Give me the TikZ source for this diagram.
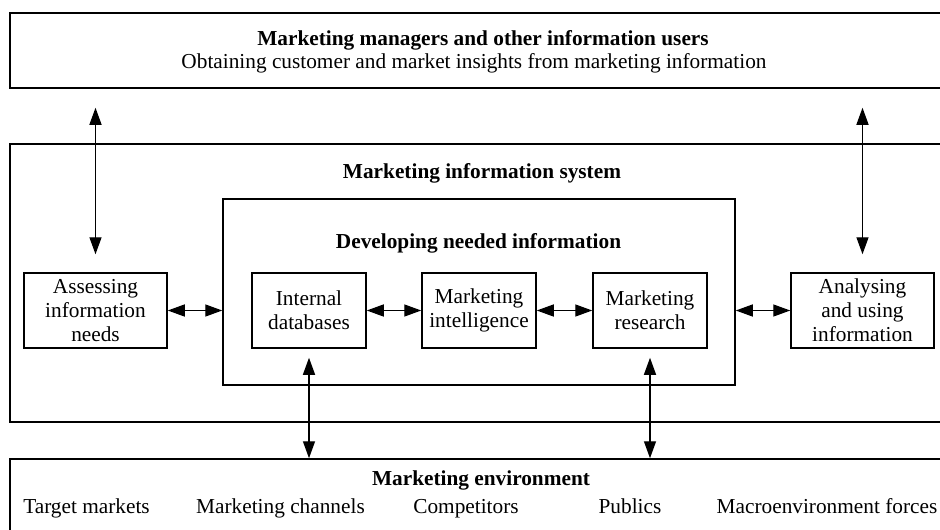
\documentclass[tikz,border=0pt]{standalone}
\usepackage{fontspec}
\setmainfont{Liberation Serif}
\usetikzlibrary{arrows.meta,calc}
\begin{document}
\begin{tikzpicture}[x=1pt,y=-1pt,
  every node/.style={font=\fontsize{21.3}{24}\selectfont},
  frame/.style={draw, line width=1.5pt, rectangle, inner sep=0pt},
  smallbox/.style={frame, minimum height=75pt, align=center},
  title/.style={anchor=base, font=\fontsize{21.3}{24}\selectfont\bfseries, inner sep=0pt},
  plain/.style={anchor=base, inner sep=0pt},
  arr/.style={line width=1.4pt, {Triangle[length=17pt,width=12pt]}-{Triangle[length=17pt,width=12pt]}}
]
\useasboundingbox (0,0) rectangle (940,530);
\begin{scope}
\clip (0,0) rectangle (940,530);
% big frames
\node[frame, minimum width=940pt, minimum height=75pt] (top) at (480,50.5) {};
\node[frame, minimum width=940pt, minimum height=278pt] (mis) at (480,283) {};
\node[frame, minimum width=512pt, minimum height=186pt] (inner) at (479,292) {};
\node[frame, minimum width=940pt, minimum height=90pt] (env) at (480,504) {};
\end{scope}
% titles
\node[title] (t1) at (483,45) {Marketing managers and other information users};
\node[plain] (t2) at (474,68) {Obtaining customer and market insights from marketing information};
\node[title] (t3) at (482,178) {Marketing information system};
\node[title] (t4) at (478.5,248) {Developing needed information};
\node[title] (t5) at (481,485) {Marketing environment};
% environment items
\node[plain] (e1) at (86.5,513) {Target markets};
\node[plain] (e2) at (280.5,513) {Marketing channels};
\node[plain] (e3) at (466,513) {Competitors};
\node[plain] (e4) at (630,513) {Publics};
\node[plain] (e5) at (827,513) {Macroenvironment forces};
% small boxes
\node[smallbox, minimum width=143pt] (assess) at (95.5,310.5) {Assessing\\information\\needs};
\node[smallbox, minimum width=114pt] (internal) at (309,310.5) {Internal\\databases};
\node[smallbox, minimum width=114pt] (intel) at (479,310.5) {Marketing\\intelligence};
\node[smallbox, minimum width=114pt] (research) at (650,310.5) {Marketing\\research};
\node[smallbox, minimum width=143pt] (analyse) at (862.5,310.5) {Analysing\\and using\\information};
% arrows
\draw[arr, shorten <=19pt, shorten >=18pt] (assess.north |- top.south) -- (assess.north);
\draw[arr, shorten <=19pt, shorten >=18pt] (analyse.north |- top.south) -- (analyse.north);
\draw[arr] (assess.east) -- (assess.east -| inner.west);
\draw[arr] (internal.east) -- (intel.west);
\draw[arr] (intel.east) -- (research.west);
\draw[arr] (analyse.west -| inner.east) -- (analyse.west);
\draw[arr, shorten <=9pt] (internal.south) -- (internal.south |- env.north);
\draw[arr, shorten <=9pt] (research.south) -- (research.south |- env.north);
\end{tikzpicture}
\end{document}
